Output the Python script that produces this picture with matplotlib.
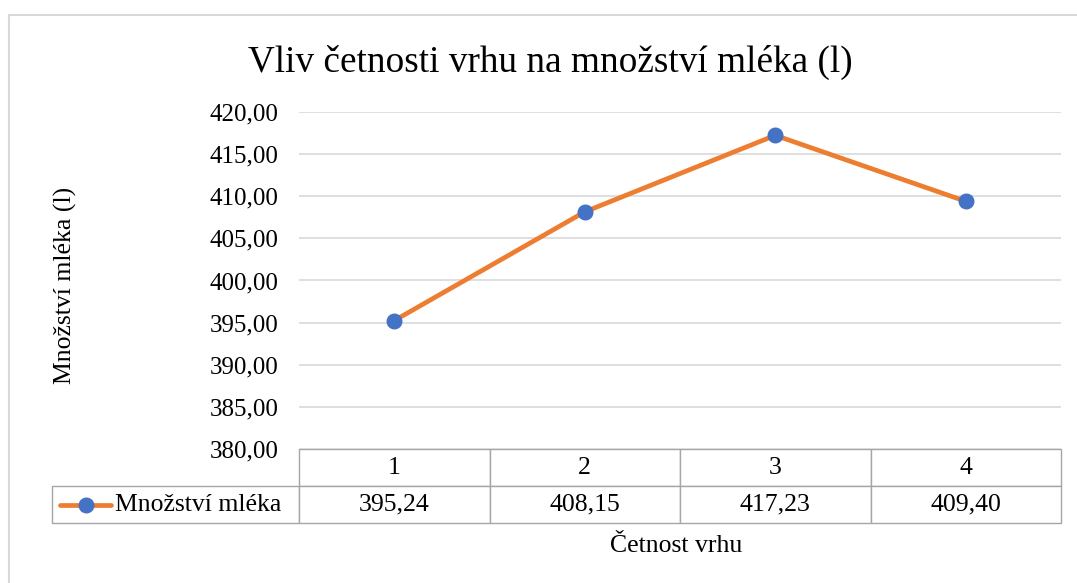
# coding: utf-8
'''
Vliv četnosti vrhu na množství mléka - spojnicový graf s tabulkou dat.
'''

import matplotlib.pyplot as plt
from matplotlib.lines import Line2D
from matplotlib.patches import Rectangle
from matplotlib.table import Table

# Data
categories = ['1', '2', '3', '4']
milk = [395.24, 408.15, 417.23, 409.40]
series_name = 'Množství mléka'
yticks = [380, 385, 390, 395, 400, 405, 410, 415, 420]

ORANGE = '#ED7D31'
BLUE = '#4472C4'
GRID = '#D9D9D9'
BORDER = '#A6A6A6'
FS = 18.5


def fmt(v):
    return '{:.2f}'.format(v).replace('.', ',')


if __name__ == '__main__':
    plt.rcParams['font.family'] = ['Liberation Serif', 'DejaVu Serif']

    W, H = 1077, 583
    fig = plt.figure(figsize=(W / 100, H / 100), dpi=100)

    # okraj grafu
    fig.patches.append(Rectangle((9 / W, -0.1), 1.2, 1 - 15 / H + 0.1,
                                 transform=fig.transFigure, fill=False,
                                 edgecolor=GRID, linewidth=1.5))

    left, right, top, bottom = 299, 1061, 112, 449
    ax = fig.add_axes([left / W, 1 - bottom / H, (right - left) / W, (bottom - top) / H])

    x = range(1, len(categories) + 1)
    ax.plot(x, milk, color=ORANGE, linewidth=3.4, marker='o',
            markersize=10.5, markerfacecolor=BLUE, markeredgecolor=BLUE,
            solid_capstyle='round', zorder=3)

    ax.set_xlim(0.5, len(categories) + 0.5)
    ax.set_ylim(yticks[0], yticks[-1])
    ax.set_yticks(yticks)
    ax.set_yticklabels([fmt(v) for v in yticks], fontsize=18)
    ax.tick_params(axis='y', length=0, pad=15)
    ax.set_xticks([])
    ax.grid(axis='y', color=GRID, linewidth=1.2)
    ax.set_axisbelow(True)
    for s in ax.spines.values():
        s.set_visible(False)

    # tabulka dat
    tleft, tbottom = 52, 523
    tb = Table(ax, bbox=[(tleft - left) / (right - left), -(tbottom - bottom) / (bottom - top),
                         (right - tleft) / (right - left), (tbottom - bottom) / (bottom - top)])
    label_w = (left - tleft) / (right - left)
    col_w = 1 / len(categories)
    for j, c in enumerate(categories):
        cell = tb.add_cell(0, j + 1, width=col_w, height=1, text=c, loc='center')
        cell.set_edgecolor(BORDER)
        cell.get_text().set_fontsize(FS)
        cell = tb.add_cell(1, j + 1, width=col_w, height=1, text=fmt(milk[j]), loc='center')
        cell.set_edgecolor(BORDER)
        cell.get_text().set_fontsize(FS)
    cell = tb.add_cell(0, 0, width=label_w, height=1, text='')
    cell.set_edgecolor('none')
    cell.set_facecolor('none')
    cell = tb.add_cell(1, 0, width=label_w, height=1, text='')
    cell.set_edgecolor(BORDER)
    tb.auto_set_font_size(False)
    ax.add_table(tb)

    # legenda v tabulce
    ly = 1 - 505 / H
    fig.add_artist(Line2D([60 / W, 111 / W], [ly, ly], transform=fig.transFigure,
                          color=ORANGE, linewidth=3.4, solid_capstyle='round'))
    fig.add_artist(Line2D([86 / W], [ly], transform=fig.transFigure, marker='o',
                          markersize=10.5, color=BLUE))
    fig.text(115 / W, ly, series_name, fontsize=FS, va='center', ha='left')

    fig.text(676 / W, 1 - 546 / H, 'Četnost vrhu', fontsize=FS, ha='center', va='center')
    fig.text(65 / W, 1 - 285 / H, 'Množství mléka (l)', fontsize=FS, rotation=90,
             ha='center', va='center')
    fig.text(550 / W, 1 - 62 / H, 'Vliv četnosti vrhu na množství mléka (l)',
             fontsize=26.8, ha='center', va='center')

    fig.savefig('out.png', dpi=100)
